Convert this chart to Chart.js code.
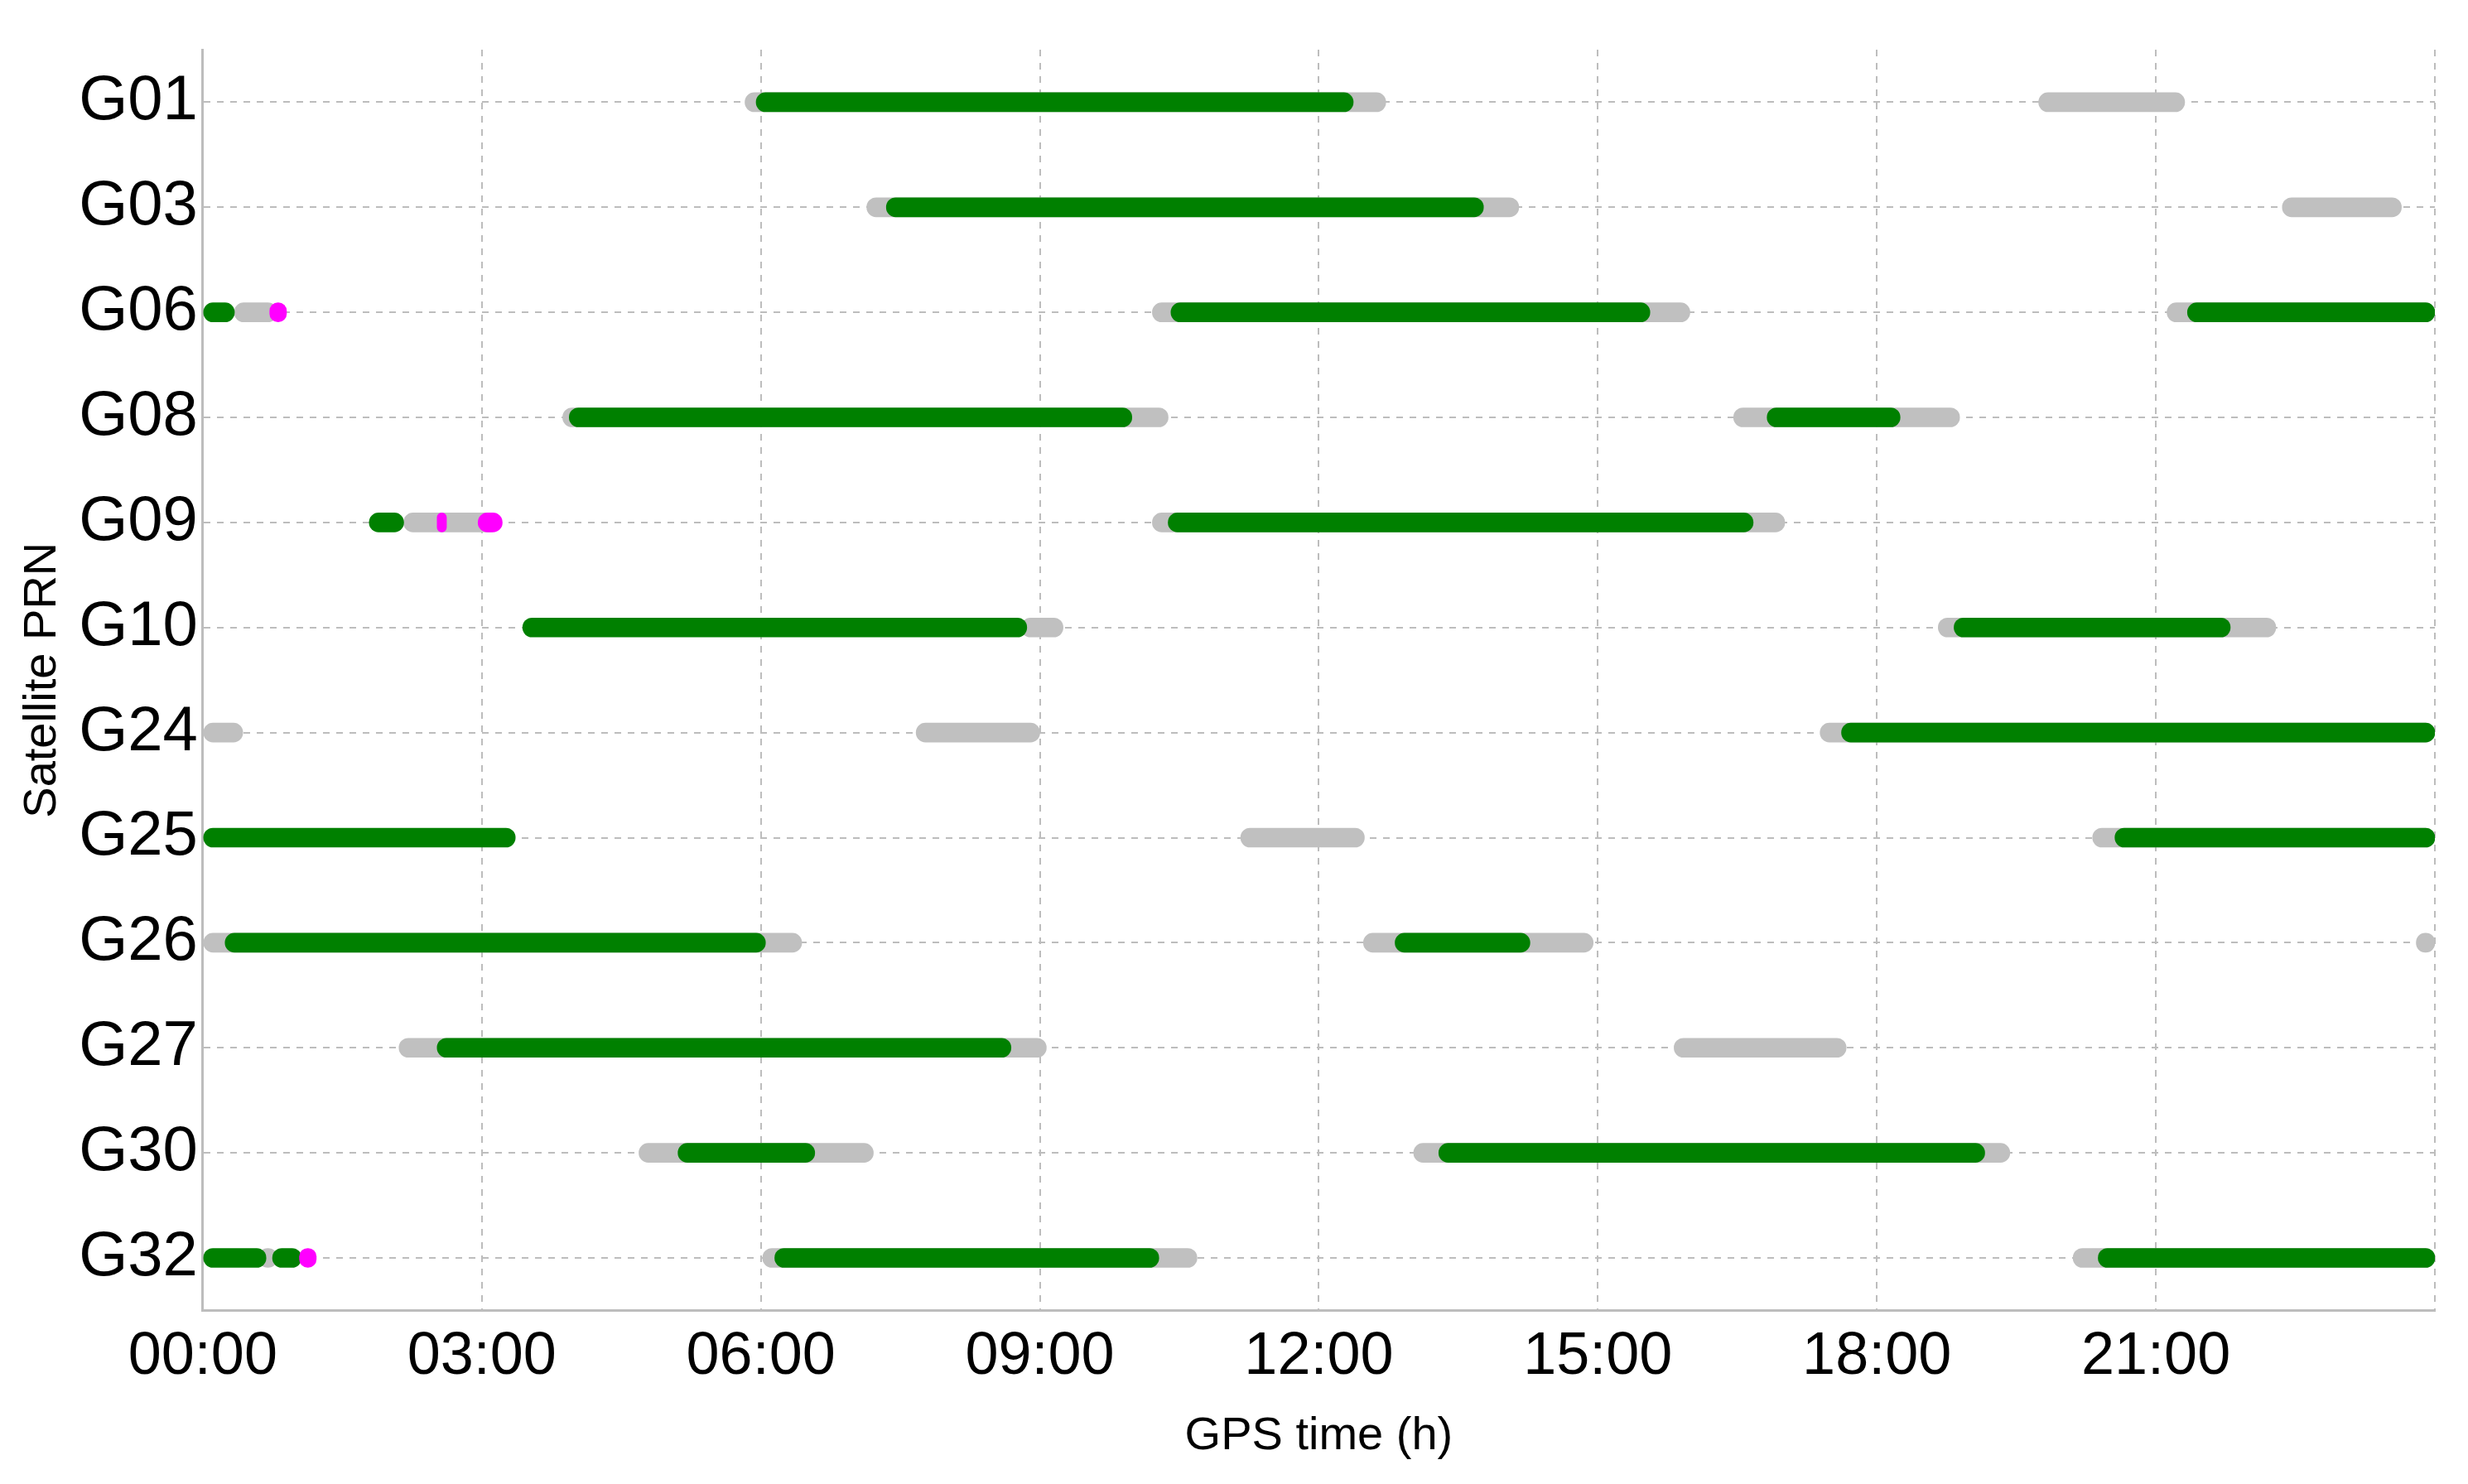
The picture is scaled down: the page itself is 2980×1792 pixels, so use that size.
<!DOCTYPE html>
<html>
<head>
<meta charset="utf-8">
<script src="https://cdn.jsdelivr.net/npm/chart.js@4/dist/chart.umd.min.js"></script>
<style>
  html, body { margin: 0; padding: 0; background: #fff; }
  #wrap { width: 2980px; height: 1792px; }
</style>
</head>
<body>
<div id="wrap"><canvas id="chart"></canvas></div>
<script>
// satellites, top to bottom
const satellites = ['G01','G03','G06','G08','G09','G10','G24','G25','G26','G27','G30','G32'];

// tracked arcs (hours) per satellite: [sat, start, end]
const grayArcs = [
  ['G01',5.83,12.72],['G01',19.74,21.31],
  ['G03',7.14,14.15],['G03',22.36,23.64],
  ['G06',0.34,0.8],['G06',10.21,15.99],['G06',21.12,24],
  ['G08',3.87,10.38],['G08',16.46,18.89],
  ['G09',2.16,3.19],['G09',10.21,17.01],
  ['G10',8.8,9.25],['G10',18.66,22.29],
  ['G24',0,0.43],['G24',7.67,9.0],['G24',17.39,24],
  ['G25',11.16,12.49],['G25',20.32,24],
  ['G26',0,6.44],['G26',12.48,14.95],['G26',23.8,24],
  ['G27',2.11,9.07],['G27',15.82,17.67],
  ['G30',4.69,7.21],['G30',13.02,19.43],
  ['G32',0.6,0.8],['G32',6.02,10.69],['G32',20.11,24]
];
const greenArcs = [
  ['G01',5.95,12.37],
  ['G03',7.35,13.77],
  ['G06',0,0.34],['G06',10.41,15.56],['G06',21.34,24],
  ['G08',3.94,9.99],['G08',16.82,18.25],
  ['G09',1.79,2.16],['G09',10.38,16.67],
  ['G10',3.44,8.86],['G10',18.83,21.8],
  ['G24',17.62,24],
  ['G25',0,3.36],['G25',20.56,24],
  ['G26',0.24,6.05],['G26',12.82,14.27],
  ['G27',2.52,8.69],
  ['G30',5.11,6.58],['G30',13.29,19.16],
  ['G32',0,0.68],['G32',0.75,1.06],['G32',6.15,10.28],['G32',20.38,24]
];
const magentaArcs = [
  ['G06',0.72,0.9],
  ['G09',2.52,2.62],['G09',2.96,3.22],
  ['G32',1.04,1.22]
];
const tickHours = [0,3,6,9,12,15,18,21];

const toBars = arcs => arcs.map(([y, a, b]) => ({ y: y, x: [a, b] }));
const barStyle = { borderSkipped: false, borderRadius: 12, barThickness: 23, grouped: false };
const font = 'Liberation Sans';

new Chart(document.getElementById('chart'), {
  type: 'bar',
  data: {
    labels: satellites,
    datasets: [
      { label: 'gray', data: toBars(grayArcs), backgroundColor: '#c0c0c0', ...barStyle, order: 3 },
      { label: 'green', data: toBars(greenArcs), backgroundColor: '#008000', ...barStyle, order: 2 },
      { label: 'magenta', data: toBars(magentaArcs), backgroundColor: '#ff00ff', ...barStyle, order: 1 }
    ]
  },
  options: {
    indexAxis: 'y',
    responsive: true,
    maintainAspectRatio: false,
    animation: false,
    layout: { padding: { top: 60, right: 40, left: 14, bottom: 20 } },
    plugins: { legend: { display: false }, tooltip: { enabled: false } },
    scales: {
      x: {
        type: 'linear', min: 0, max: 24,
        afterBuildTicks: ax => { ax.ticks = tickHours.concat([24]).map(v => ({ value: v })); },
        ticks: {
          color: '#000', font: { family: font, size: 72 }, padding: 14,
          callback: v => v === 24 ? '' : String(v).padStart(2, '0') + ':00'
        },
        grid: { color: '#bdbdbd', lineWidth: 2, drawTicks: false },
        border: { color: '#bdbdbd', width: 3, dash: [8, 8] },
        title: { display: true, text: 'GPS time (h)', color: '#000', font: { family: font, size: 56 } }
      },
      y: {
        type: 'category', offset: true,
        ticks: { color: '#000', font: { family: font, size: 76 }, padding: 6 },
        grid: { color: '#bdbdbd', lineWidth: 2, drawTicks: false, offset: false },
        border: { color: '#bdbdbd', width: 3, dash: [8, 8] },
        title: { display: true, text: 'Satellite PRN', color: '#000', font: { family: font, size: 56 }, padding: 4 }
      }
    }
  }
});
</script>
</body>
</html>
